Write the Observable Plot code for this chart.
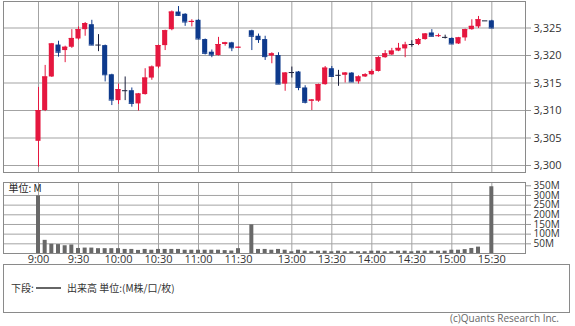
<!DOCTYPE html>
<html><head><meta charset="utf-8">
<script src="https://cdn.jsdelivr.net/npm/d3@7"></script>
<script src="https://cdn.jsdelivr.net/npm/@observablehq/plot@0.6"></script>
<style>
html,body{margin:0;padding:0;background:#fff;}
#wrap{position:relative;width:575px;height:326px;overflow:hidden;font-family:"Open Sans","Noto Sans CJK JP",sans-serif;background:#fff;}
#price,#vol{position:absolute;left:0;}
#price{top:0}
#vol{top:178px}
#legend{position:absolute;left:3px;top:264px;width:567px;height:49px;border:1px solid #8a8a8a;box-sizing:border-box;}
#legend span{position:absolute;font-family:"Noto Sans CJK JP",sans-serif;font-size:10px;color:#333;line-height:12px;top:17px;white-space:nowrap;}
#legend .ln{top:22px;height:2px;background:#666;}
#copy{position:absolute;right:16px;top:312px;font-size:10px;color:#666;line-height:12px;white-space:nowrap;}
</style></head>
<body><div id="wrap">
<div id="price"></div><div id="vol"></div>
<div id="legend"><span style="left:7px">下段:</span><span class="ln" style="left:32px;width:25px"></span><span style="left:63px">出来高 単位:(M株/口/枚)</span></div>
<div id="copy">(c)Quants Research Inc.</div>
</div>
<script>
const times = ["9:00","9:05","9:10","9:15","9:20","9:25","9:30","9:35","9:40","9:45","9:50","9:55",
"10:00","10:05","10:10","10:15","10:20","10:25","10:30","10:35","10:40","10:45","10:50","10:55",
"11:00","11:05","11:10","11:15","11:20","11:25","11:30",
"12:30","12:35","12:40","12:45","12:50","12:55","13:00","13:05","13:10","13:15","13:20","13:25",
"13:30","13:35","13:40","13:45","13:50","13:55","14:00","14:05","14:10","14:15","14:20","14:25",
"14:30","14:35","14:40","14:45","14:50","14:55","15:00","15:05","15:10","15:15","15:20","15:25","15:30"];
const open = [3304.4,3310.0,3316.1,3321.9,3320.9,3321.5,3323.0,3324.7,3325.6,3321.9,3321.8,3316.5,
3311.8,3313.6,3313.6,3311.2,3312.9,3315.9,3317.9,3321.8,3324.7,3327.9,3327.5,3326.0,
3326.4,3322.9,3320.6,3320.0,3322.0,3322.3,3321.4,
3324.5,3323.5,3322.9,3319.9,3320.0,3314.8,3316.9,3317.0,3314.1,3311.7,3311.7,3314.7,
3317.6,3316.4,3316.4,3316.8,3315.2,3316.1,3316.5,3317.1,3319.6,3320.1,3320.8,3321.2,
3322.0,3322.0,3322.9,3324.1,3323.5,3323.3,3323.1,3322.1,3323.2,3324.7,3325.2,3326.3,3326.3];
const high = [3314.2,3318.2,3322.2,3322.6,3321.7,3324.7,3325.2,3326.0,3326.4,3323.8,3321.9,3316.6,
3314.8,3316.1,3314.1,3313.1,3317.6,3318.1,3321.9,3324.6,3328.1,3328.9,3327.6,3326.5,
3326.5,3323.0,3321.0,3323.3,3322.4,3322.4,3321.5,
3324.6,3323.9,3323.5,3320.5,3320.5,3316.9,3317.9,3317.1,3314.5,3312.0,3314.8,3318.0,
3318.0,3317.3,3316.9,3316.9,3316.3,3316.7,3317.4,3319.8,3320.9,3321.3,3322.2,3322.4,
3322.7,3323.1,3324.0,3324.7,3323.9,3323.7,3323.2,3323.3,3324.8,3326.5,3327.1,3326.3,3326.4];
const low = [3299.7,3309.8,3316.0,3319.7,3318.7,3321.3,3322.8,3323.5,3321.8,3320.7,3315.2,3310.9,
3311.1,3311.8,3310.6,3309.9,3312.8,3315.5,3317.6,3320.9,3324.5,3327.1,3325.3,3325.2,
3322.9,3320.1,3319.6,3319.9,3321.7,3320.7,3321.3,
3320.9,3322.2,3319.1,3318.5,3314.8,3313.5,3315.9,3313.6,3311.2,3310.0,3311.5,3314.6,
3316.0,3314.4,3315.0,3315.1,3314.8,3316.0,3316.4,3317.0,3319.5,3320.0,3320.7,3319.6,
3321.5,3321.8,3322.8,3323.4,3323.3,3323.0,3322.0,3322.0,3322.6,3324.6,3324.9,3326.3,3324.9];
const close = [3310.0,3316.1,3322.1,3320.6,3321.5,3323.1,3324.7,3325.8,3321.9,3321.9,3316.5,3311.9,
3313.8,3313.6,3311.3,3313.0,3315.9,3317.9,3321.8,3324.5,3327.9,3327.3,3326.1,3326.2,
3323.0,3320.4,3320.1,3322.0,3322.3,3321.4,3321.5,
3323.5,3322.9,3319.8,3320.3,3314.8,3316.8,3316.9,3314.2,3311.5,3311.9,3314.7,3317.7,
3316.2,3316.4,3316.8,3315.2,3316.1,3316.5,3317.1,3319.6,3320.3,3320.8,3321.3,3321.9,
3322.0,3322.9,3323.9,3323.5,3323.6,3323.3,3322.1,3323.2,3324.7,3325.3,3326.5,3326.3,3325.0];
const volume = [298,68,48,46,40,44,26,28,28,25,25,25,
25,21,21,16,21,17,21,21,21,21,17,17,
17,17,17,17,15,13,25,
148,21,21,17,21,17,9,17,12,9,12,12,
9,12,9,9,9,9,12,12,9,9,12,12,
9,12,12,12,12,12,17,17,20,26,33,0,345];
const tickLabels = ["9:00","9:30","10:00","10:30","11:00","11:30","13:00","13:30","14:00","14:30","15:00","15:30"];
const priceTicks = [3300,3305,3310,3315,3320,3325];
const volTicks = [50,100,150,200,250,300,350];
const volGrid = [50,100,150,200,250,300];

function slot(t){ const [h,m]=t.split(":").map(Number); const mn=h*60+m; return mn<=690 ? (mn-540)/5 : (mn-750)/5+32; }
const bars = times.map((t,k)=>({i:slot(t),o:open[k],h:high[k],l:low[k],c:close[k],v:volume[k]}));
const tickSlots = tickLabels.map(slot);
const col = d => d.c > d.o ? "#e5173f" : d.c < d.o ? "#0e3a8c" : "#1b1f3b";
const xDomain = [-5.25, 73.05];
const font = {fontFamily:"'Open Sans','Noto Sans CJK JP',sans-serif", fontSize:"11px", color:"#333", background:"transparent"};

const price = Plot.plot({
  width:575, height:178, marginLeft:3, marginRight:50, marginTop:1, marginBottom:6,
  x:{type:"linear", domain:xDomain, axis:null, label:null},
  y:{domain:[3298.73,3329.82], axis:null, label:null},
  color:{type:"identity"},
  style:font,
  marks:[
    Plot.gridY(priceTicks,{stroke:"#a3a3a3",strokeOpacity:1}),
    Plot.gridX(tickSlots,{stroke:"#a3a3a3",strokeOpacity:1}),
    Plot.axisY(priceTicks,{anchor:"right",label:null,tickSize:5,tickPadding:3,stroke:"#999",tickFormat:d3.format(",")}),
    Plot.frame({stroke:"#8a8a8a"}),
    Plot.ruleX(bars,{x:"i",y1:"l",y2:"h",stroke:col,strokeWidth:1}),
    Plot.rect(bars,{x1:d=>d.i-0.38,x2:d=>d.i+0.38,y1:d=>Math.min(d.o,d.c),y2:d=>Math.max(d.o,d.c),fill:col}),
    Plot.ruleY(bars,{x1:d=>d.i-0.4,x2:d=>d.i+0.4,y:"c",stroke:col,strokeWidth:1})
  ]
});
document.getElementById("price").appendChild(price);

const vol = Plot.plot({
  width:575, height:90, marginLeft:3, marginRight:50, marginTop:4, marginBottom:15,
  x:{type:"linear", domain:xDomain, axis:null, label:null},
  y:{domain:[0,367], axis:null, label:null},
  style:font,
  marks:[
    Plot.gridY(volGrid,{stroke:"#a3a3a3",strokeOpacity:1}),
    Plot.gridX(tickSlots,{stroke:"#a3a3a3",strokeOpacity:1}),
    Plot.axisY(volTicks,{anchor:"right",label:null,tickSize:5,tickPadding:3,stroke:"#999",fontSize:10,tickFormat:d=>d+"M"}),
    Plot.axisX(tickSlots,{anchor:"bottom",label:null,tickSize:0,tickPadding:2,tickFormat:d=>tickLabels[tickSlots.indexOf(d)]}),
    Plot.frame({stroke:"#8a8a8a"}),
    Plot.rectY(bars,{x1:d=>d.i-0.3,x2:d=>d.i+0.3,y:"v",fill:"#686868"}),
    Plot.text(["単位: M"],{frameAnchor:"top-left",dx:5,dy:2,textAnchor:"start",lineAnchor:"top",fontSize:10,fill:"#222",fontFamily:"'Noto Sans CJK JP',sans-serif"})
  ]
});
document.getElementById("vol").appendChild(vol);
</script>
</body></html>
